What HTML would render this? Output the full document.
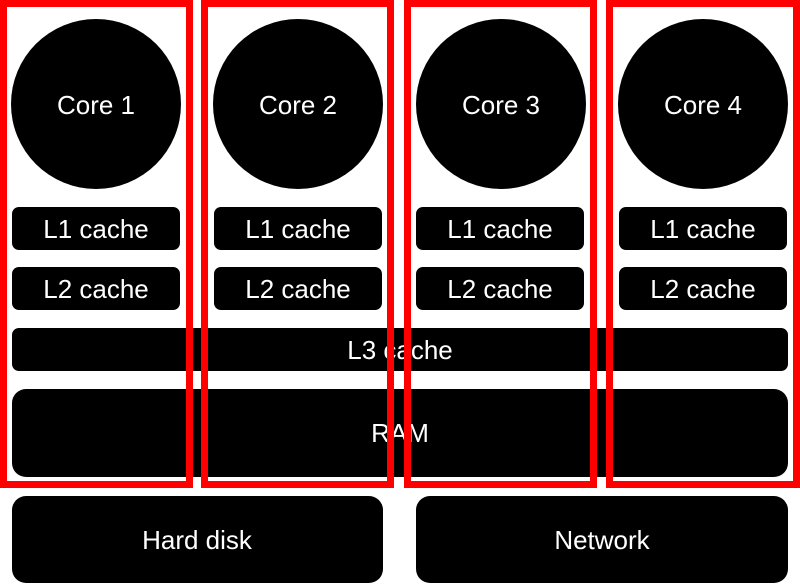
<!DOCTYPE html>
<html><head><style>
html,body{margin:0;padding:0;background:#fff;}
svg{display:block;}
text{font-family:"Liberation Sans",sans-serif;font-size:26px;fill:#fff;text-anchor:middle;dominant-baseline:central;}
</style></head><body>
<svg width="800" height="584" viewBox="0 0 800 584" xmlns="http://www.w3.org/2000/svg">
<g fill="#000">
<circle cx="96" cy="104" r="85"/>
<circle cx="298" cy="104" r="85"/>
<circle cx="501" cy="104" r="85"/>
<circle cx="703" cy="104" r="85"/>
<rect x="12" y="207" width="168" height="43" rx="7"/>
<rect x="214" y="207" width="168" height="43" rx="7"/>
<rect x="416" y="207" width="168" height="43" rx="7"/>
<rect x="619" y="207" width="168" height="43" rx="7"/>
<rect x="12" y="267" width="168" height="43" rx="7"/>
<rect x="214" y="267" width="168" height="43" rx="7"/>
<rect x="416" y="267" width="168" height="43" rx="7"/>
<rect x="619" y="267" width="168" height="43" rx="7"/>
<rect x="12" y="328" width="776" height="43" rx="7"/>
<rect x="12" y="389" width="776" height="88" rx="14"/>
<rect x="12" y="496" width="371" height="87" rx="14"/>
<rect x="416" y="496" width="372" height="87" rx="14"/>
</g>
<text x="96" y="105">Core 1</text>
<text x="298" y="105">Core 2</text>
<text x="501" y="105">Core 3</text>
<text x="703" y="105">Core 4</text>
<text x="96" y="229">L1 cache</text>
<text x="298" y="229">L1 cache</text>
<text x="500" y="229">L1 cache</text>
<text x="703" y="229">L1 cache</text>
<text x="96" y="289">L2 cache</text>
<text x="298" y="289">L2 cache</text>
<text x="500" y="289">L2 cache</text>
<text x="703" y="289">L2 cache</text>
<text x="400" y="350">L3 cache</text>
<text x="400" y="433">RAM</text>
<text x="197" y="540">Hard disk</text>
<text x="602" y="540">Network</text>
<g fill="none" stroke="#f00" stroke-width="7">
<rect x="3.5" y="3.5" width="186" height="481"/>
<rect x="204.5" y="3.5" width="186" height="481"/>
<rect x="407.5" y="3.5" width="186" height="481"/>
<rect x="609.5" y="3.5" width="187" height="481"/>
</g>
</svg>
</body></html>
